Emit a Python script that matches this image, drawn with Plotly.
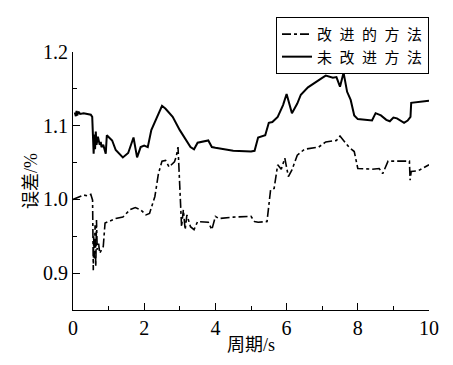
import plotly.graph_objects as go

x_new = [0.0, 0.1, 0.2, 0.3, 0.4, 0.5, 0.55, 0.57, 0.58, 0.6, 0.62, 0.64, 0.66, 0.68, 0.72, 0.75,
         0.8, 0.85, 0.9, 1.0, 1.2, 1.4, 1.6, 1.75, 1.9, 2.05, 2.15, 2.3, 2.4, 2.5, 2.6, 2.7, 2.85,
         2.9, 2.95, 3.05, 3.1, 3.15, 3.2, 3.3, 3.4, 3.5, 3.7, 3.8, 3.9, 4.0, 4.1, 4.5, 5.0, 5.1,
         5.2, 5.45, 5.55, 5.65, 5.75, 5.85, 5.95, 6.05, 6.15, 6.3, 6.5, 6.7, 6.9, 7.1, 7.4, 7.5,
         7.6, 7.75, 7.9, 8.0, 8.4, 8.6, 8.7, 8.85, 9.0, 9.45, 9.47, 9.5, 9.7, 10.0]
y_new = [1.0, 1.002, 1.005, 1.006, 1.005, 1.007, 0.999, 0.904, 0.95, 0.92, 0.965, 0.909, 0.972,
         0.932, 0.94, 0.927, 0.932, 0.936, 0.968, 0.97, 0.974, 0.976, 0.986, 0.989, 0.986, 0.979,
         0.981, 1.004, 1.035, 1.052, 1.053, 1.044, 1.051, 1.058, 1.071, 0.963, 0.986, 0.959, 0.979,
         0.963, 0.959, 0.97, 0.969, 0.969, 0.959, 0.977, 0.974, 0.976, 0.977, 0.97, 0.969, 0.97,
         1.013, 1.015, 1.047, 1.041, 1.056, 1.031, 1.04, 1.06, 1.068, 1.069, 1.071, 1.078, 1.08,
         1.086, 1.08, 1.071, 1.065, 1.042, 1.041, 1.042, 1.035, 1.052, 1.052, 1.052, 1.026, 1.038,
         1.039, 1.047]

x_old = [0.05, 0.08, 0.1, 0.12, 0.15, 0.2, 0.3, 0.4, 0.5, 0.54, 0.57, 0.58, 0.6, 0.62, 0.64, 0.66,
         0.7, 0.75, 0.78, 0.8, 0.85, 0.88, 0.92, 0.95, 1.05, 1.1, 1.2, 1.4, 1.55, 1.7, 1.8, 1.9, 2.0,
         2.1, 2.2, 2.5, 2.6, 2.7, 2.8, 3.0, 3.3, 3.4, 3.5, 3.8, 3.9, 4.0, 4.5, 5.0, 5.1, 5.2, 5.3,
         5.4, 5.5, 5.6, 5.75, 5.9, 6.0, 6.15, 6.3, 6.4, 6.6, 6.8, 7.0, 7.1, 7.3, 7.4, 7.5, 7.6, 7.7,
         7.8, 7.9, 8.0, 8.4, 8.5, 8.65, 8.8, 8.9, 9.0, 9.1, 9.3, 9.4, 9.48, 9.5, 10.0]
y_old = [1.118, 1.113, 1.12, 1.114, 1.119, 1.116, 1.117, 1.116, 1.115, 1.112, 1.075, 1.062, 1.088,
         1.068, 1.092, 1.074, 1.085, 1.074, 1.078, 1.071, 1.074, 1.07, 1.062, 1.087, 1.083, 1.08,
         1.067, 1.057, 1.063, 1.084, 1.057, 1.071, 1.073, 1.071, 1.094, 1.127, 1.123, 1.117, 1.112,
         1.094, 1.071, 1.068, 1.077, 1.08, 1.071, 1.07, 1.066, 1.065, 1.066, 1.084, 1.086, 1.087,
         1.104, 1.105, 1.112, 1.128, 1.143, 1.117, 1.13, 1.142, 1.152, 1.159, 1.165, 1.168, 1.165,
         1.166, 1.153, 1.172, 1.146, 1.135, 1.114, 1.109, 1.107, 1.117, 1.114, 1.108, 1.106, 1.111,
         1.11, 1.104, 1.107, 1.112, 1.131, 1.134]

name_new = "改\u2002进\u2002的\u2002方\u2002法"
name_old = "未\u2002改\u2002进\u2002方\u2002法"
x_ticks = [0, 2, 4, 6, 8, 10]
y_ticks = [0.9, 1.0, 1.1, 1.2]

fig = go.Figure()
fig.add_trace(go.Scatter(x=x_new, y=y_new, mode="lines", name=name_new,
                         line=dict(color="black", width=1.6, dash="dashdot")))
fig.add_trace(go.Scatter(x=x_old, y=y_old, mode="lines", name=name_old,
                         line=dict(color="black", width=2)))

serif = "Liberation Serif, Times New Roman, serif"
cjk = "Liberation Serif, Noto Sans CJK SC, serif"

fig.update_layout(
    width=453, height=365,
    margin=dict(l=73, r=24, t=52, b=55, autoexpand=False),
    paper_bgcolor="white", plot_bgcolor="white",
    showlegend=True,
    legend=dict(x=1.0, y=1.136, xanchor="right", yanchor="top",
                bordercolor="black", borderwidth=1, bgcolor="white",
                font=dict(family=cjk, size=15, color="black"),
                tracegroupgap=0, itemwidth=30),
    xaxis=dict(range=[0, 10], tickvals=x_ticks, ticks="inside", ticklen=7,
               tickcolor="black", showline=True, linecolor="black", linewidth=1,
               showgrid=False, zeroline=False, mirror=False, automargin=False,
               tickfont=dict(family=serif, size=20, color="black"),
               minor=dict(dtick=1, ticks="inside", ticklen=4, tickcolor="black"),
               title=dict(text="周期/s", font=dict(family=cjk, size=18, color="black"),
                          standoff=0)),
    yaxis=dict(range=[0.85, 1.2], tickvals=y_ticks, tickformat=".1f", ticks="inside",
               ticklen=7, tickcolor="black", showline=True, linecolor="black", linewidth=1,
               showgrid=False, zeroline=False, mirror=False, automargin=False,
               tickfont=dict(family=serif, size=20, color="black"),
               minor=dict(dtick=0.05, tick0=0.85, ticks="inside", ticklen=4, tickcolor="black"),
               title=dict(text="误差/%", font=dict(family=cjk, size=18, color="black"),
                          standoff=0)),
)

fig.write_html("out.html", config={"displayModeBar": False},
               post_script="document.body.style.margin='0';document.body.style.padding='0';")
